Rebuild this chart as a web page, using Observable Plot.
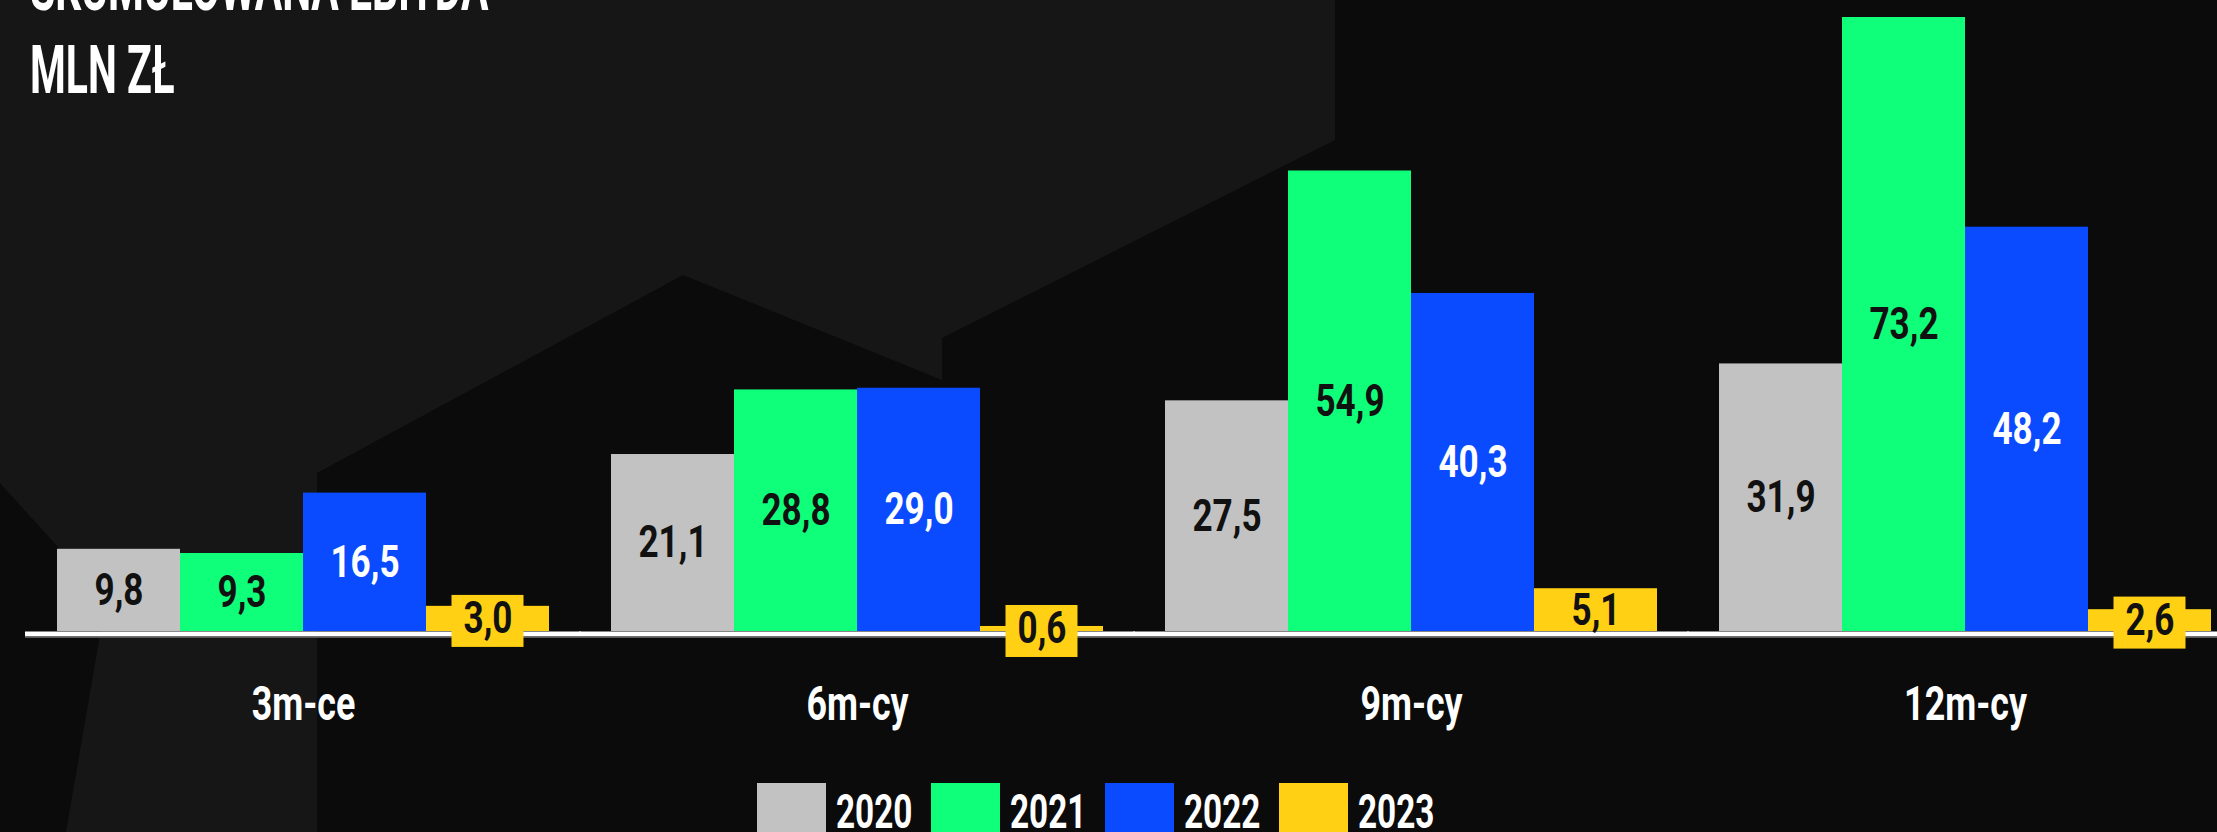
<!DOCTYPE html>
<html>
<head>
<meta charset="utf-8">
<script src="https://cdn.jsdelivr.net/npm/d3@7"></script>
<script src="https://cdn.jsdelivr.net/npm/@observablehq/plot@0.6"></script>
<style>
html, body { margin: 0; padding: 0; background: #0b0b0b; width: 2217px; height: 832px; overflow: hidden; font-family: Roboto, sans-serif; }
#bg { position: absolute; left: 0; top: 0; width: 2217px; height: 832px; background: #161616;
  clip-path: polygon(0px 0px, 1335px 0px, 1335px 140px, 942px 338px, 942px 380px, 683px 275px, 317px 473px, 317px 832px, 66px 832px, 106px 600px, 0px 483px); }
#chart { position: absolute; left: 0; top: 0; }
#title { position: absolute; left: 30px; top: -54px; color: #fff; font-weight: 700; font-size: 67px; line-height: 83px; }
#title div { transform: scaleX(0.61); transform-origin: 0 0; white-space: nowrap; }
#legend { position: absolute; left: 757px; top: 783px; display: flex; }
.item { display: flex; align-items: flex-start; width: 174px; }
.sw { width: 69px; height: 70px; flex: none; }
.lab { margin-left: 10px; color: #fff; font-weight: 700; font-size: 49px; line-height: 49px; position: relative; top: 4px; transform: scaleX(0.68); transform-origin: 0 0; white-space: nowrap; }
</style>
</head>
<body>
<div id="bg"></div>
<div id="chart"></div>
<div id="title"><div>SKUMULOWANA EBITDA</div><div>MLN ZŁ</div></div>
<div id="legend"></div>
<script>
const periods = ["3m-ce", "6m-cy", "9m-cy", "12m-cy"];
const years = ["2020", "2021", "2022", "2023"];
const v2020 = [9.8, 21.1, 27.5, 31.9];
const v2021 = [9.3, 28.8, 54.9, 73.2];
const v2022 = [16.5, 29.0, 40.3, 48.2];
const v2023 = [3.0, 0.6, 5.1, 2.6];
const colors = ["#c2c2c2", "#10ff7a", "#0a4bff", "#ffd014"];

const series = [v2020, v2021, v2022, v2023];
const rows = [];
periods.forEach((p, i) => years.forEach((y, j) => rows.push({period: p, year: y, value: series[j][i]})));
const fmt = v => v.toFixed(1).replace(".", ",");
const smallRows = rows.filter(d => d.year === "2023" && d.value < 4);

const chart = Plot.plot({
  width: 2217,
  height: 760,
  marginTop: 17,
  marginBottom: 129,
  marginLeft: 56,
  marginRight: 4,
  style: {background: "transparent", fontFamily: "Roboto", color: "#fff", overflow: "visible"},
  fx: {domain: periods, paddingInner: 0.108, paddingOuter: 0, label: null},
  x: {domain: years, padding: 0, axis: null},
  y: {domain: [0, 73.2], axis: null},
  color: {domain: years, range: colors},
  marks: [
    Plot.barY(rows, {fx: "period", x: "year", y: "value", fill: "year"}),
    Plot.ruleY([0], {stroke: "#fff", strokeWidth: 5, dy: 2.5, insetLeft: -31, insetRight: -31}),
    Plot.ruleY([0], {stroke: "#5a5a5a", strokeWidth: 1.5, dy: 5.8, insetLeft: -31, insetRight: -31}),
    Plot.barY(smallRows, {fx: "period", x: "year", y1: d => d.value / 2, y2: d => d.value / 2, fill: "year",
      insetLeft: 25.5, insetRight: 25.5, insetTop: -26, insetBottom: -26, dy: 2.5}),
    Plot.text(rows, {fx: "period", x: "year", y: d => d.value / 2, text: d => fmt(d.value),
      fill: d => d.year === "2022" ? "#ffffff" : "#111111", fontSize: 45, fontWeight: 700}),
    Plot.axisFx({anchor: "bottom", tickSize: 0, tickPadding: 54, fontSize: 49, fontWeight: 700, fill: "#ffffff", label: null})
  ]
});
document.getElementById("chart").append(chart);

chart.querySelectorAll("text").forEach(t => {
  const isAxis = t.closest('[aria-label="fx-axis tick label"]') !== null;
  const k = isAxis ? 0.73 : 0.78;
  const L = t.getComputedTextLength();
  t.setAttribute("textLength", (L * k).toFixed(1));
  t.setAttribute("lengthAdjust", "spacingAndGlyphs");
});

const legend = document.getElementById("legend");
years.forEach((y, j) => {
  const item = document.createElement("div");
  item.className = "item";
  const sw = document.createElement("div");
  sw.className = "sw";
  sw.style.background = colors[j];
  const lab = document.createElement("span");
  lab.className = "lab";
  lab.textContent = y;
  item.append(sw, lab);
  legend.append(item);
});
</script>
</body>
</html>
